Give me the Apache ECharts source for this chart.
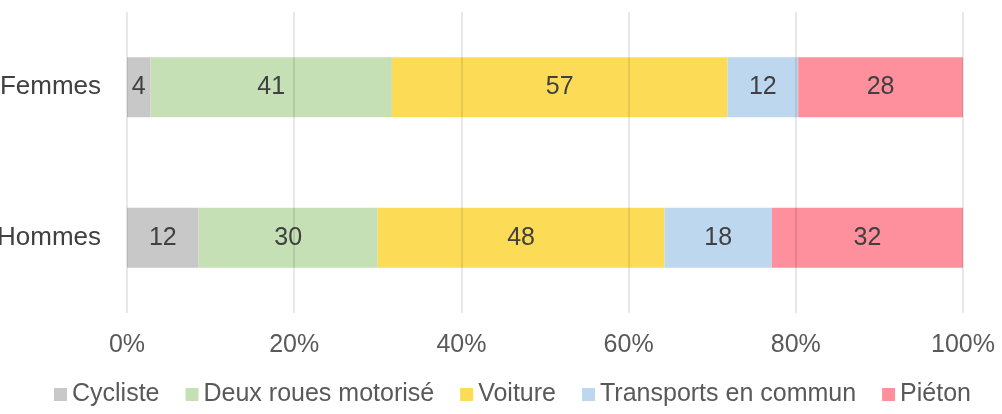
<!DOCTYPE html>
<html>
<head>
<meta charset="utf-8">
<script src="https://cdn.jsdelivr.net/npm/echarts@6/dist/echarts.min.js"></script>
<style>
  html, body { margin: 0; padding: 0; background: #fff; }
  #chart { width: 1002px; height: 414px; }
</style>
</head>
<body>
<div id="chart"></div>
<script>
// Modes de déplacement par sexe (valeurs brutes, affichées en 100 % empilé)
const categories = ['Femmes', 'Hommes'];
const seriesNames = ['Cycliste', 'Deux roues motorisé', 'Voiture', 'Transports en commun', 'Piéton'];
const cycliste = [4, 12];
const deuxRoues = [41, 30];
const voiture = [57, 48];
const transports = [12, 18];
const pieton = [28, 32];
const colors = ['#c8c8c8', '#c5e0b4', '#fcdc56', '#bdd7ee', '#fe8f9c'];

const FONT = 'Liberation Sans, Arial, Helvetica, sans-serif';
const raw = [cycliste, deuxRoues, voiture, transports, pieton];
const totals = categories.map((_, i) => raw.reduce((s, arr) => s + arr[i], 0));

const chart = echarts.init(document.getElementById('chart'), null, { renderer: 'canvas' });

const series = raw.map((vals, k) => ({
  name: seriesNames[k],
  type: 'bar',
  stack: 'total',
  barWidth: 60,
  itemStyle: { color: colors[k] },
  label: {
    show: true,
    position: 'inside',
    color: '#404040',
    fontSize: 25,
    fontFamily: FONT,
    formatter: p => String(vals[p.dataIndex])
  },
  data: vals.map((v, i) => v / totals[i] * 100)
}));

chart.setOption({
  animation: false,
  textStyle: { fontFamily: FONT },
  grid: {
    left: 127, right: 39, top: 12, bottom: 101,
    containLabel: false,
    outerBoundsMode: 'none'
  },
  legend: {
    bottom: 2,
    left: 49,
    itemWidth: 13,
    itemHeight: 13,
    itemGap: 26,
    icon: 'rect',
    textStyle: { fontSize: 25, color: '#595959', fontFamily: FONT },
    data: seriesNames
  },
  xAxis: {
    type: 'value',
    min: 0,
    max: 100,
    interval: 20,
    z: 5,
    axisLine: { show: false },
    axisTick: { show: false },
    // gridlines are painted over the bars, faintly showing through them
    splitLine: { show: true, lineStyle: { color: 'rgba(0,0,0,0.12)', width: 1.5 } },
    axisLabel: {
      formatter: '{value}%',
      fontSize: 25,
      color: '#595959',
      margin: 20
    }
  },
  yAxis: {
    type: 'category',
    inverse: true,
    data: categories,
    axisLine: { show: false },
    axisTick: { show: false },
    axisLabel: { fontSize: 26, color: '#404040', margin: 26 }
  },
  series: series
});
</script>
</body>
</html>
